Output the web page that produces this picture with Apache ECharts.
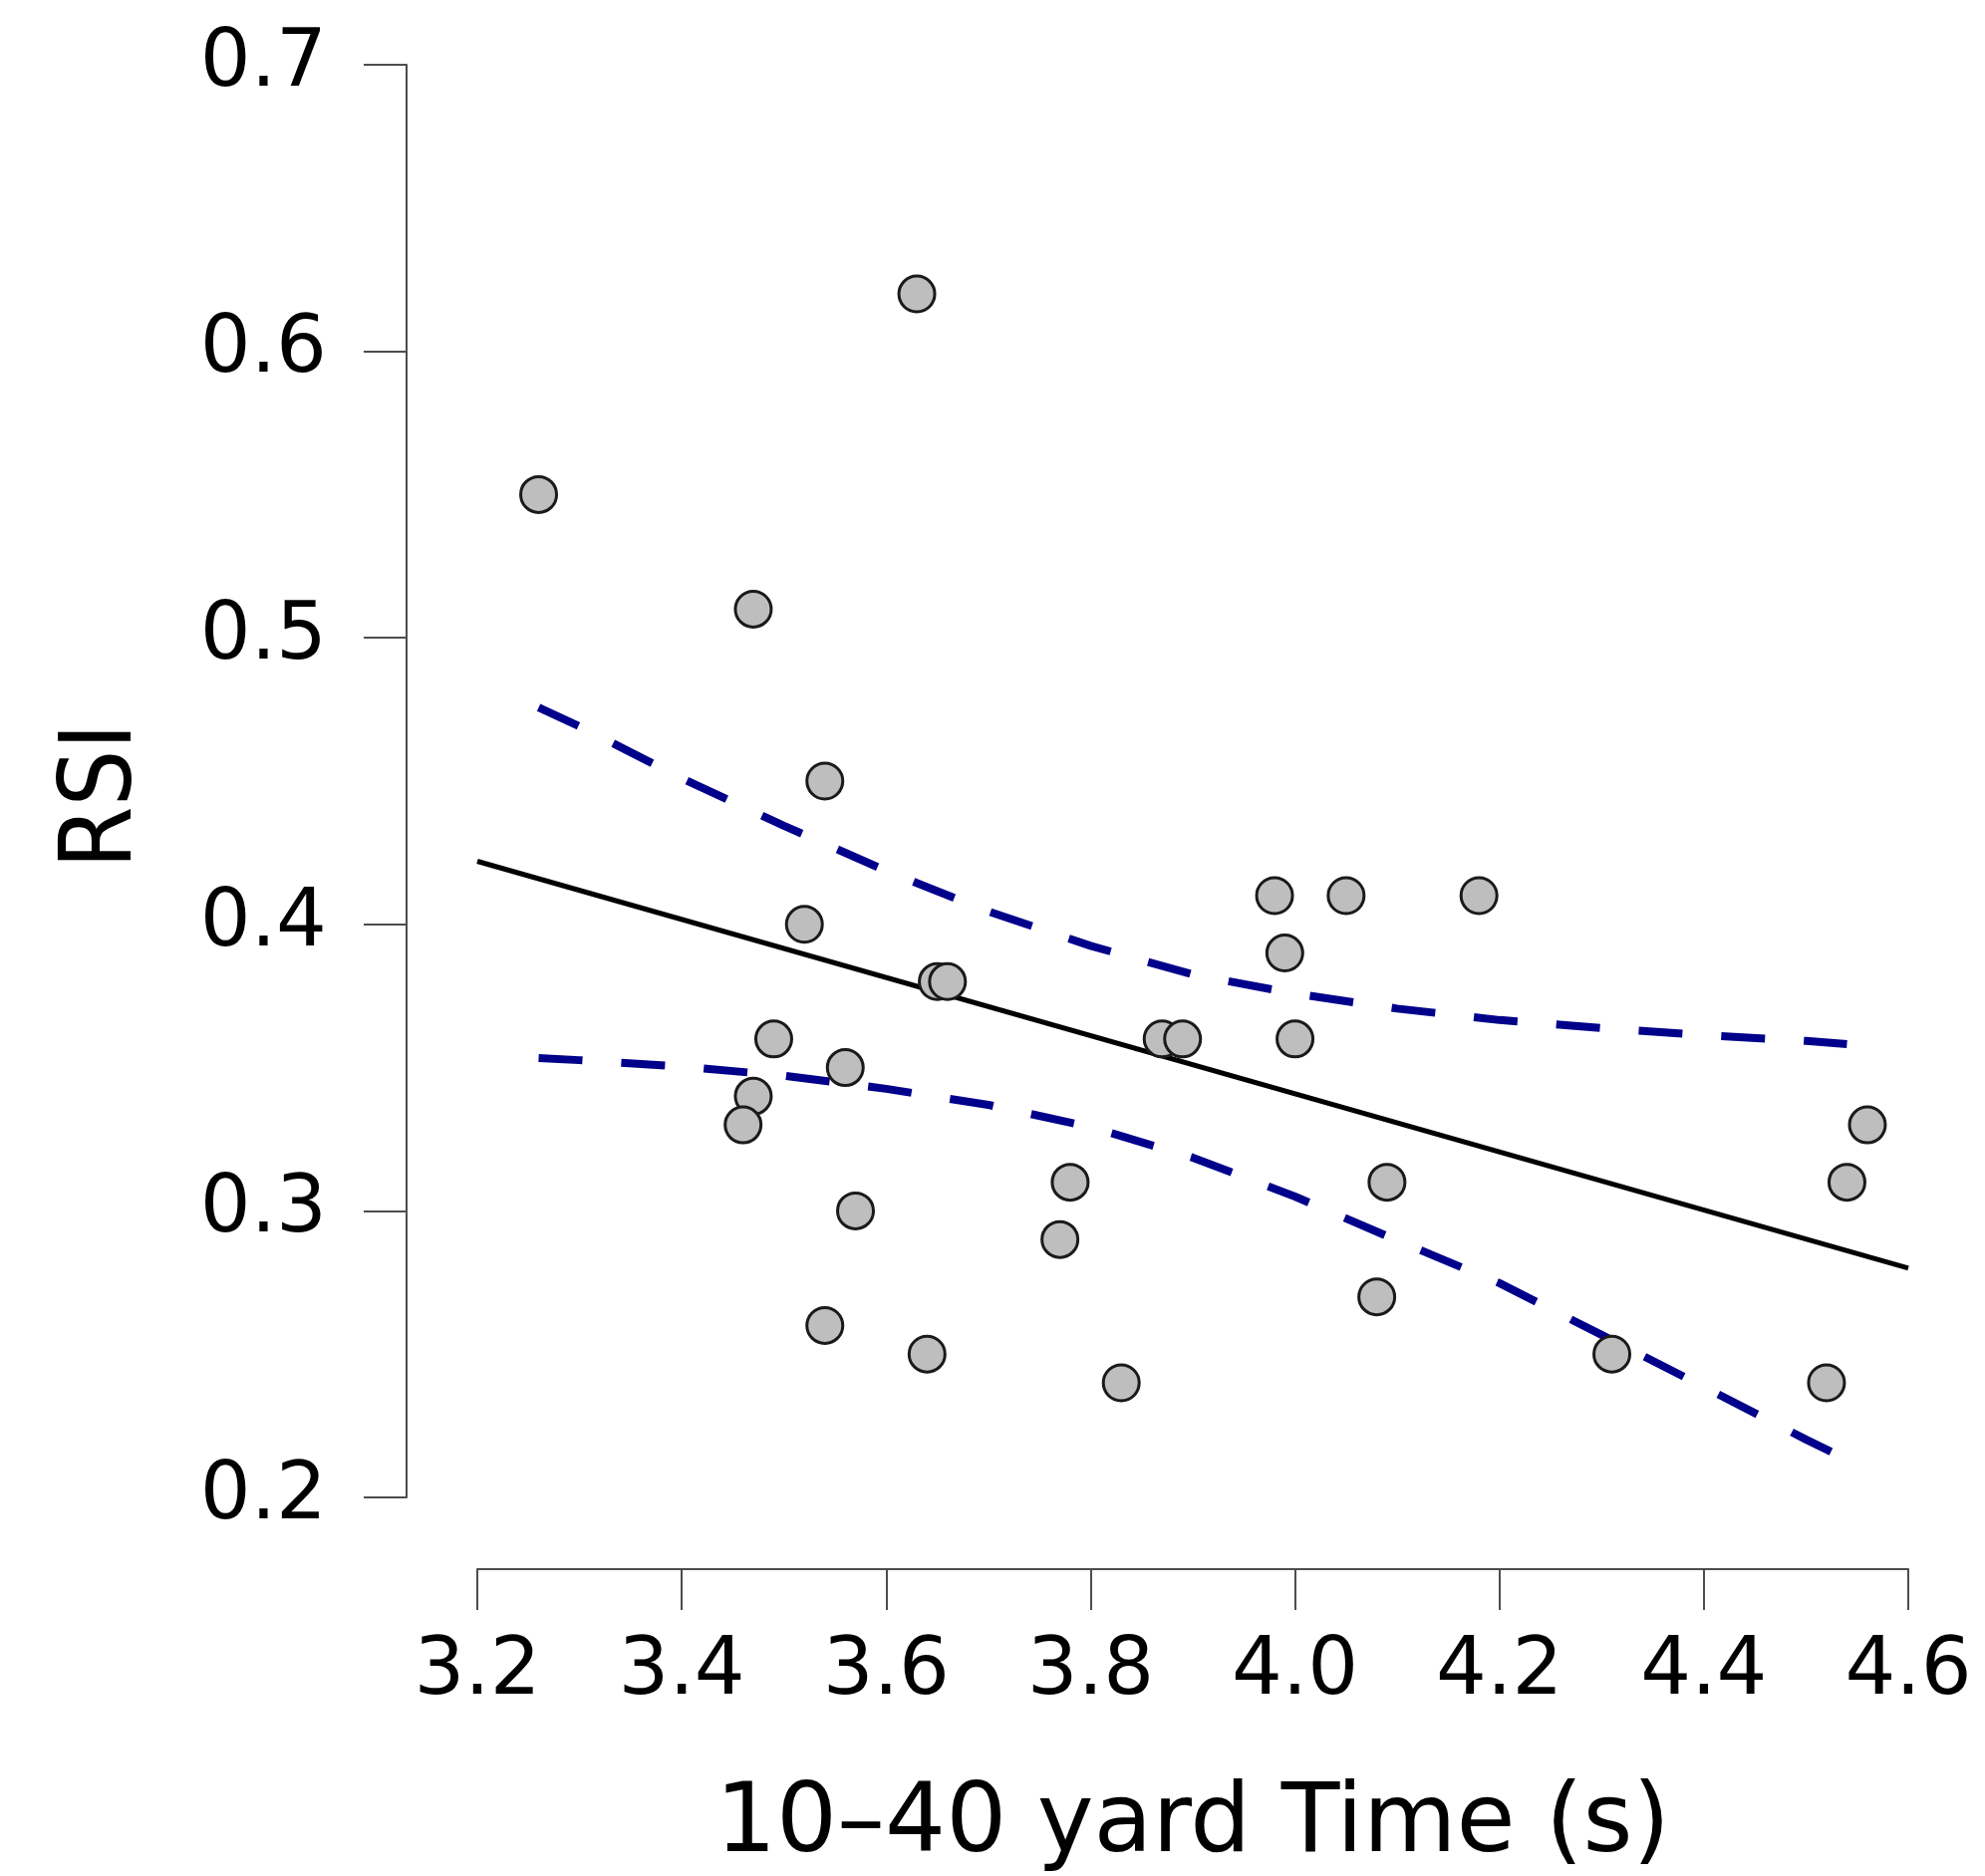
<!DOCTYPE html>
<html>
<head>
<meta charset="utf-8">
<script src="https://cdn.jsdelivr.net/npm/echarts@6/dist/echarts.min.js"></script>
<style>
  html, body { margin: 0; padding: 0; background: #ffffff; }
  #chart { width: 1992px; height: 1883px; }
</style>
</head>
<body>
<div id="chart"></div>
<script>
// Observed points: 10-40 yard time (s) vs RSI
const timeValues = [3.26, 3.63, 3.47, 3.54, 3.52, 3.65, 3.66, 3.49, 3.56, 3.47,
                    3.46, 3.57, 3.54, 3.64, 3.78, 3.77, 3.83, 3.87, 3.89, 3.98,
                    3.99, 4.05, 4.00, 4.18, 4.09, 4.08, 4.31, 4.52, 4.54, 4.56];
const rsiValues  = [0.55, 0.62, 0.51, 0.45, 0.40, 0.38, 0.38, 0.36, 0.35, 0.34,
                    0.33, 0.30, 0.26, 0.25, 0.31, 0.29, 0.24, 0.36, 0.36, 0.41,
                    0.39, 0.41, 0.36, 0.41, 0.31, 0.27, 0.25, 0.24, 0.31, 0.33];

// Fitted regression line
const fitX = [3.2, 4.6];
const fitY = [0.422, 0.280];

// Confidence band
const bandX     = [3.26, 3.3, 3.4, 3.5, 3.6, 3.7, 3.8, 3.9, 4.0, 4.1, 4.2, 4.3, 4.4, 4.5, 4.54];
const bandUpper = [0.4757, 0.4691, 0.451, 0.4344, 0.4187, 0.4045, 0.3925, 0.3825, 0.3758, 0.3706, 0.3666, 0.3638, 0.3613, 0.3593, 0.3582];
const bandLower = [0.3533, 0.3526, 0.3504, 0.3472, 0.3426, 0.337, 0.3293, 0.3186, 0.305, 0.2897, 0.2748, 0.2567, 0.2386, 0.2202, 0.2132];

// Axis ticks
const xTicks = [3.2, 3.4, 3.6, 3.8, 4.0, 4.2, 4.4, 4.6];
const yTicks = [0.2, 0.3, 0.4, 0.5, 0.6, 0.7];

const xName = '10\u201340 yard Time (s)';
const yName = 'RSI';

const zip = (a, b) => a.map((v, i) => [v, b[i]]);

const chart = echarts.init(document.getElementById('chart'), null, { renderer: 'canvas' });

const axisColor = '#4d4d4d';
const labelFont = 'DejaVu Sans';

chart.setOption({
  animation: false,
  backgroundColor: '#ffffff',
  grid: { left: 479, right: 77, top: 65, bottom: 380, containLabel: false, outerBoundsMode: 'none' },
  xAxis: {
    type: 'value',
    min: xTicks[0],
    max: xTicks[xTicks.length - 1],
    interval: 0.2,
    offset: 72,
    name: xName,
    nameLocation: 'middle',
    nameGap: 210,
    nameTextStyle: { fontFamily: labelFont, fontSize: 96, color: '#000' },
    axisLine: { show: true, onZero: false, lineStyle: { color: axisColor, width: 2 } },
    axisTick: { show: true, length: 41, lineStyle: { color: axisColor, width: 2 } },
    axisLabel: { fontFamily: labelFont, fontSize: 80, color: '#000', margin: 64,
                 formatter: v => v.toFixed(1) },
    splitLine: { show: false }
  },
  yAxis: {
    type: 'value',
    min: yTicks[0],
    max: yTicks[yTicks.length - 1],
    interval: 0.1,
    offset: 71,
    name: yName,
    nameLocation: 'middle',
    nameRotate: 90,
    nameGap: 253,
    nameTextStyle: { fontFamily: "'Liberation Sans Narrow', 'DejaVu Sans Condensed', 'DejaVu Sans'", fontSize: 100, color: '#000',
                     padding: [0, 30, 0, 0] },
    axisLine: { show: true, onZero: false, lineStyle: { color: axisColor, width: 2 } },
    axisTick: { show: true, length: 43, lineStyle: { color: axisColor, width: 2 } },
    axisLabel: { fontFamily: labelFont, fontSize: 80, color: '#000', margin: 80,
                 formatter: v => v.toFixed(1) },
    splitLine: { show: false }
  },
  series: [
    {
      type: 'line',
      data: zip(bandX, bandUpper),
      symbol: 'none',
      lineStyle: { color: '#00008B', width: 8, type: [44, 39], cap: 'butt' },
      z: 2
    },
    {
      type: 'line',
      data: zip(bandX, bandLower),
      symbol: 'none',
      lineStyle: { color: '#00008B', width: 8, type: [44, 39], cap: 'butt' },
      z: 2
    },
    {
      type: 'line',
      data: zip(fitX, fitY),
      symbol: 'none',
      lineStyle: { color: '#000000', width: 5 },
      z: 3
    },
    {
      type: 'scatter',
      data: zip(timeValues, rsiValues),
      symbol: 'circle',
      symbolSize: 36,
      itemStyle: { color: '#BEBEBE', borderColor: '#1a1a1a', borderWidth: 3, opacity: 1 },
      z: 4
    }
  ]
});
</script>
</body>
</html>
